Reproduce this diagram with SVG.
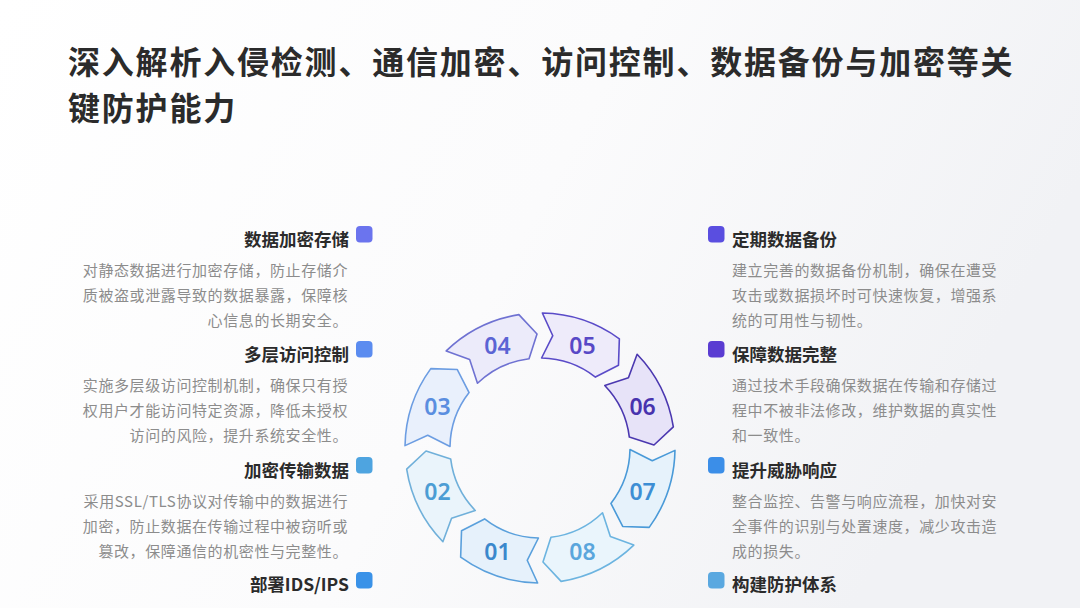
<svg xmlns="http://www.w3.org/2000/svg" width="1080" height="608" viewBox="0 0 1080 608">
<defs>
<linearGradient id="bg" x1="0" y1="0" x2="1" y2="0.3">
<stop offset="0" stop-color="#ffffff"/>
<stop offset="0.55" stop-color="#fbfbfc"/>
<stop offset="1" stop-color="#f1f2f5"/>
</linearGradient>
<path id="seg" d="M125.61,-49.48 A135,135 0 0 1 131.27,31.52 L106.43,40.86 L86.72,24.05 A90,90 0 0 0 83.74,-32.99 L108.62,-31.15 Z"/>
<style>
.title{font-family:"Noto Sans CJK SC","Noto Sans",sans-serif;font-weight:700;font-size:32px;fill:#2b2b2b;letter-spacing:1.8px}
.h{font-family:"Noto Sans CJK SC","Noto Sans",sans-serif;font-weight:700;font-size:17.5px;fill:#2b2b2b}
.d{font-family:"Noto Sans CJK SC","Noto Sans",sans-serif;font-size:15px;fill:#8c8c8c;letter-spacing:0.6px}
.l{text-anchor:end}
.seg use{stroke-width:1.6;stroke-linejoin:round}
.num{font-family:"Noto Sans","Noto Sans CJK SC",sans-serif;font-weight:600;font-size:23px;text-anchor:middle;dominant-baseline:central}
</style>
</defs>
<rect width="1080" height="608" fill="url(#bg)"/>
<g id="title">
<text class="title" x="68" y="74">深入解析入侵检测、通信加密、访问控制、数据备份与加密等关</text>
<text class="title" x="68" y="120">键防护能力</text>
</g>
<g id="ring" class="seg">
<g id="seg01"><use href="#seg" transform="translate(540,448) rotate(112.5)" fill="#e6f1fb" stroke="#5aa0dc"/><text class="num" x="497.5" y="550.6" fill="#3a88cc">01</text></g>
<g id="seg02"><use href="#seg" transform="translate(540,448) rotate(157.5)" fill="#eaf4fb" stroke="#70b0da"/><text class="num" x="437.4" y="490.5" fill="#4c9dd4">02</text></g>
<g id="seg03"><use href="#seg" transform="translate(540,448) rotate(202.5)" fill="#e9f0fc" stroke="#6c9de2"/><text class="num" x="437.4" y="405.5" fill="#5a8ee0">03</text></g>
<g id="seg04"><use href="#seg" transform="translate(540,448) rotate(247.5)" fill="#ecebfa" stroke="#6f72d2"/><text class="num" x="497.5" y="345.4" fill="#5b64d4">04</text></g>
<g id="seg05"><use href="#seg" transform="translate(540,448) rotate(292.5)" fill="#eeebfa" stroke="#5a4bc8"/><text class="num" x="582.5" y="345.4" fill="#5848c6">05</text></g>
<g id="seg06"><use href="#seg" transform="translate(540,448) rotate(337.5)" fill="#e7e3f8" stroke="#4b38b0"/><text class="num" x="642.6" y="405.5" fill="#4833ae">06</text></g>
<g id="seg07"><use href="#seg" transform="translate(540,448) rotate(22.5)" fill="#e6f2fb" stroke="#4a9ad8"/><text class="num" x="642.6" y="490.5" fill="#3d8ed4">07</text></g>
<g id="seg08"><use href="#seg" transform="translate(540,448) rotate(67.5)" fill="#eaf5fc" stroke="#6cb4e0"/><text class="num" x="582.5" y="550.6" fill="#5aa6dc">08</text></g>
</g>
<g id="left1">
<rect x="356" y="226" width="16.5" height="16.5" rx="4" fill="#6b74ee"/>
<text class="h l" x="349" y="246">数据加密存储</text>
<text class="d l" x="348" y="276">对静态数据进行加密存储，防止存储介</text>
<text class="d l" x="348" y="301">质被盗或泄露导致的数据暴露，保障核</text>
<text class="d l" x="348" y="326">心信息的长期安全。</text>
</g>
<g id="left2">
<rect x="356" y="341" width="16.5" height="16.5" rx="4" fill="#5b8cf0"/>
<text class="h l" x="349" y="361">多层访问控制</text>
<text class="d l" x="348" y="391">实施多层级访问控制机制，确保只有授</text>
<text class="d l" x="348" y="416">权用户才能访问特定资源，降低未授权</text>
<text class="d l" x="348" y="441">访问的风险，提升系统安全性。</text>
</g>
<g id="left3">
<rect x="356" y="457" width="16.5" height="16.5" rx="4" fill="#4ea4e0"/>
<text class="h l" x="349" y="477">加密传输数据</text>
<text class="d l" x="348" y="507">采用SSL/TLS协议对传输中的数据进行</text>
<text class="d l" x="348" y="532">加密，防止数据在传输过程中被窃听或</text>
<text class="d l" x="348" y="557">篡改，保障通信的机密性与完整性。</text>
</g>
<g id="left4">
<rect x="356" y="572" width="16.5" height="16.5" rx="4" fill="#3a92e8"/>
<text class="h l" x="349" y="591">部署IDS/IPS</text>
</g>
<g id="right1">
<rect x="708" y="226" width="16.5" height="16.5" rx="4" fill="#5a4ee0"/>
<text class="h" x="732" y="246">定期数据备份</text>
<text class="d" x="732" y="276">建立完善的数据备份机制，确保在遭受</text>
<text class="d" x="732" y="301">攻击或数据损坏时可快速恢复，增强系</text>
<text class="d" x="732" y="326">统的可用性与韧性。</text>
</g>
<g id="right2">
<rect x="708" y="341" width="16.5" height="16.5" rx="4" fill="#5a3cd2"/>
<text class="h" x="732" y="361">保障数据完整</text>
<text class="d" x="732" y="391">通过技术手段确保数据在传输和存储过</text>
<text class="d" x="732" y="416">程中不被非法修改，维护数据的真实性</text>
<text class="d" x="732" y="441">和一致性。</text>
</g>
<g id="right3">
<rect x="708" y="457" width="16.5" height="16.5" rx="4" fill="#3b8ee8"/>
<text class="h" x="732" y="477">提升威胁响应</text>
<text class="d" x="732" y="507">整合监控、告警与响应流程，加快对安</text>
<text class="d" x="732" y="532">全事件的识别与处置速度，减少攻击造</text>
<text class="d" x="732" y="557">成的损失。</text>
</g>
<g id="right4">
<rect x="708" y="572" width="16.5" height="16.5" rx="4" fill="#5aa8e0"/>
<text class="h" x="732" y="591">构建防护体系</text>
</g>
</svg>
